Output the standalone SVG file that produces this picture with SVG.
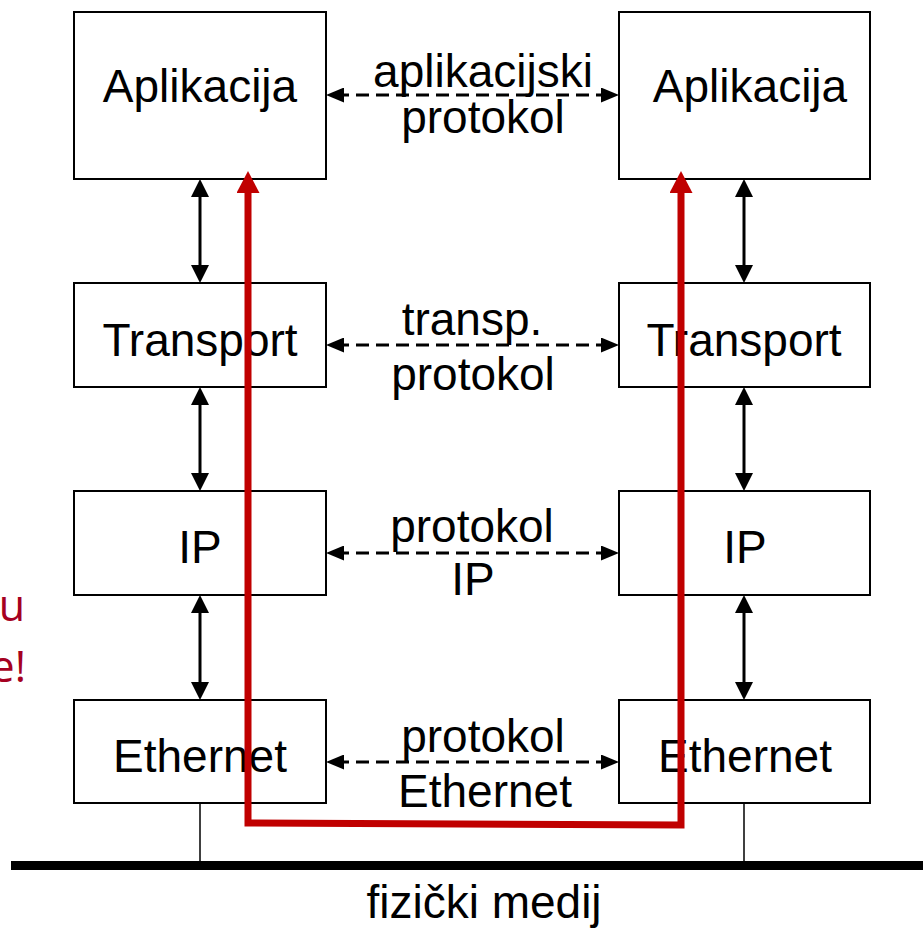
<svg xmlns="http://www.w3.org/2000/svg" width="923" height="928" viewBox="0 0 923 928">
<style>
.box{fill:#fff;stroke:#000;stroke-width:2}
.t{font-family:"Liberation Sans",Arial,sans-serif;font-size:46px;fill:#000;text-anchor:middle}
.v{stroke:#000;stroke-width:3;fill:none}
.d{stroke:#000;stroke-width:3;fill:none;stroke-dasharray:13 7}
.thin{stroke:#000;stroke-width:1.5;fill:none}
.red{stroke:#C00000;stroke-width:7;fill:none;stroke-linejoin:miter}
.note{font-family:"Open Sans","Liberation Sans",sans-serif;font-size:43px;fill:#A50021;text-anchor:end}
</style>
<defs>
<marker id="ah" viewBox="0 0 18 18" refX="8" refY="9" markerWidth="18" markerHeight="18" markerUnits="userSpaceOnUse" orient="auto-start-reverse">
<path d="M0,0 L18,9 L0,18 z" fill="#000" stroke="none"/>
</marker>
<marker id="dh" viewBox="0 0 18 15" refX="8" refY="7.5" markerWidth="18" markerHeight="15" markerUnits="userSpaceOnUse" orient="auto-start-reverse">
<path d="M0,0 L18,7.5 L0,15 z" fill="#000" stroke="none"/>
</marker>
<marker id="rh" viewBox="0 0 22 23" refX="5" refY="11.5" markerWidth="22" markerHeight="23" markerUnits="userSpaceOnUse" orient="auto-start-reverse">
<path d="M0,0 L22,11.5 L0,23 z" fill="#C00000" stroke="none"/>
</marker>
</defs>

<g id="medium">
<line x1="11" y1="865.5" x2="923" y2="865.5" stroke="#000" stroke-width="9"/>
<line class="thin" x1="200" y1="803" x2="200" y2="862"/>
<line class="thin" x1="744" y1="803" x2="744" y2="862"/>
<text class="t" x="484" y="918">fizički medij</text>
</g>

<g id="left-app"><rect class="box" x="74" y="12" width="252" height="167"/><text class="t" x="200" y="102">Aplikacija</text></g>
<g id="left-transport"><rect class="box" x="74" y="283" width="252" height="104"/><text class="t" x="200" y="356">Transport</text></g>
<g id="left-ip"><rect class="box" x="74" y="491" width="252" height="104"/><text class="t" x="200" y="563">IP</text></g>
<g id="left-eth"><rect class="box" x="74" y="700" width="252" height="103"/><text class="t" x="200" y="772">Ethernet</text></g>

<g id="right-app"><rect class="box" x="619" y="12" width="251" height="167"/><text class="t" x="750" y="102">Aplikacija</text></g>
<g id="right-transport"><rect class="box" x="619" y="283" width="251" height="104"/><text class="t" x="744" y="356">Transport</text></g>
<g id="right-ip"><rect class="box" x="619" y="491" width="251" height="104"/><text class="t" x="745" y="563">IP</text></g>
<g id="right-eth"><rect class="box" x="619" y="700" width="251" height="103"/><text class="t" x="745" y="772">Ethernet</text></g>

<g id="connectors">
<line class="v" x1="200" y1="189" x2="200" y2="273" marker-start="url(#ah)" marker-end="url(#ah)"/>
<line class="v" x1="200" y1="397" x2="200" y2="481" marker-start="url(#ah)" marker-end="url(#ah)"/>
<line class="v" x1="200" y1="605" x2="200" y2="690" marker-start="url(#ah)" marker-end="url(#ah)"/>
<line class="v" x1="744" y1="189" x2="744" y2="273" marker-start="url(#ah)" marker-end="url(#ah)"/>
<line class="v" x1="744" y1="397" x2="744" y2="481" marker-start="url(#ah)" marker-end="url(#ah)"/>
<line class="v" x1="744" y1="605" x2="744" y2="690" marker-start="url(#ah)" marker-end="url(#ah)"/>
<line class="d" x1="336" y1="95" x2="609" y2="95" marker-start="url(#dh)" marker-end="url(#dh)"/>
<line class="d" x1="336" y1="345" x2="609" y2="345" marker-start="url(#dh)" marker-end="url(#dh)"/>
<line class="d" x1="336" y1="553" x2="609" y2="553" marker-start="url(#dh)" marker-end="url(#dh)"/>
<line class="d" x1="336" y1="762" x2="609" y2="762" marker-start="url(#dh)" marker-end="url(#dh)"/>
</g>

<g id="labels">
<text class="t" x="483" y="87">aplikacijski</text>
<text class="t" x="483" y="133">protokol</text>
<text class="t" x="472" y="335">transp.</text>
<text class="t" x="473" y="390">protokol</text>
<text class="t" x="472" y="542">protokol</text>
<text class="t" x="473" y="595">IP</text>
<text class="t" x="483" y="752">protokol</text>
<text class="t" x="485" y="807">Ethernet</text>
</g>

<g id="path">
<path class="red" d="M248,188 L248,823 L681,825 L681,188" marker-start="url(#rh)" marker-end="url(#rh)"/>
</g>

<g id="note">
<text class="note" x="25" y="621">u</text>
<text class="note" x="26" y="682">e!</text>
</g>
</svg>
